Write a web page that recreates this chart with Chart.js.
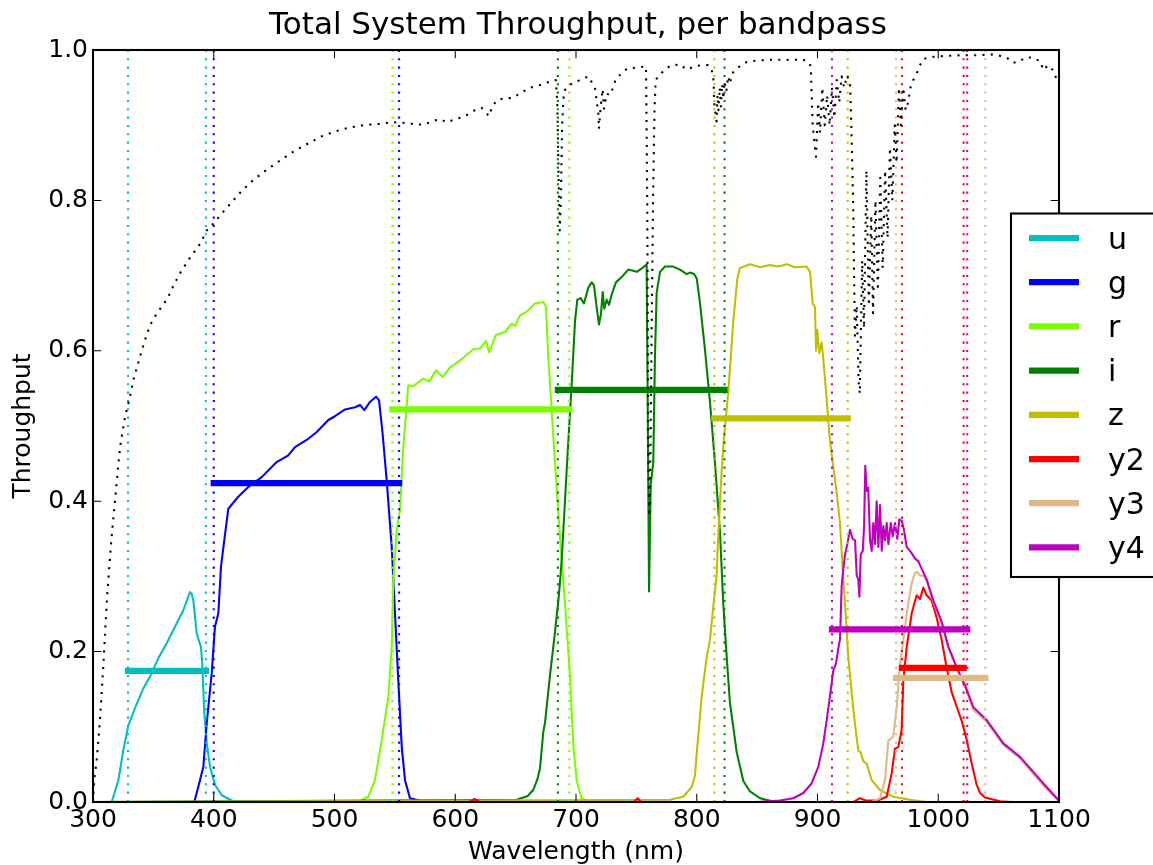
<!DOCTYPE html>
<html><head><meta charset="utf-8">
<script src="https://cdn.jsdelivr.net/npm/chart.js@4.4.1/dist/chart.umd.min.js"></script>
<style>html,body{margin:0;padding:0;background:#fff;overflow:hidden}canvas{display:block}</style>
</head><body>
<canvas id="c" width="1153" height="865"></canvas>
<script>
// ---------------- data ----------------
const chartTitle = 'Total System Throughput, per bandpass';
const xTitle = 'Wavelength (nm)';
const yTitle = 'Throughput';
const xTicks = [300, 400, 500, 600, 700, 800, 900, 1000, 1100];
const yTicks = [0.0, 0.2, 0.4, 0.6, 0.8, 1.0];

const bands = ['u', 'g', 'r', 'i', 'z', 'y2', 'y3', 'y4'];
const bandColors = ['#00BFBF', '#0000FF', '#7CFC00', '#008000', '#BFBF00', '#FF0000', '#DEB887', '#BF00BF'];
const edgeLo = [329, 400, 548, 685, 814.6, 970, 965, 912];
const edgeHi = [393.5, 553.5, 694.5, 823, 925, 1021, 1039, 1024];
const effThru = [0.1745, 0.424, 0.522, 0.548, 0.51, 0.1785, 0.165, 0.2295];

const uCurve = [[300,0],[315.5,0],[321,0.029],[325.1,0.069],[329.3,0.102],[334.8,0.125],[341.7,0.151],[347.2,0.167],[354.1,0.191],[361,0.211],[367.9,0.233],[374.8,0.255],[380.3,0.279],[381.7,0.277],[383.1,0.268],[385.9,0.224],[389.4,0.206],[390.5,0.184],[392.2,0.118],[394.2,0.078],[396.9,0.047],[401,0.023],[406.6,0.009],[414.9,0.002],[420,0],[1100,0]];
const gCurve = [[300,0],[383.9,0],[388.6,0.029],[391.4,0.047],[394.2,0.105],[398.3,0.171],[401,0.233],[403.8,0.251],[406,0.313],[408.7,0.348],[412.1,0.39],[420.3,0.406],[428.6,0.419],[439.7,0.432],[452.1,0.452],[461.7,0.461],[467.3,0.472],[478.3,0.483],[485.3,0.492],[494.9,0.508],[500.4,0.513],[508.7,0.522],[517,0.525],[521.1,0.528],[524.7,0.521],[529.4,0.532],[534.4,0.539],[536.9,0.534],[539.6,0.494],[543.2,0.428],[547.4,0.339],[550.1,0.251],[552.8,0.162],[555.7,0.073],[558.4,0.029],[562.5,0.005],[575,0],[1100,0]];
const rCurve = [[300,0],[519.7,0],[528,0.007],[533.5,0.029],[539.1,0.082],[544.6,0.14],[547.4,0.206],[548.7,0.295],[551.5,0.361],[554.2,0.388],[557,0.472],[561.1,0.554],[565.3,0.553],[573.6,0.563],[578.5,0.559],[584.1,0.574],[589.6,0.565],[595.7,0.578],[603.9,0.587],[615,0.602],[620.5,0.603],[625.5,0.613],[628,0.598],[633.7,0.621],[641.2,0.625],[646.7,0.636],[649.5,0.633],[653.6,0.647],[659.2,0.652],[666,0.663],[672.9,0.665],[675.2,0.658],[677,0.593],[682.6,0.451],[687.3,0.339],[690.9,0.263],[695,0.169],[697.8,0.075],[700.6,0.028],[704.7,0.005],[712,0],[1100,0]];
const iCurve = [[300,0],[650.9,0.003],[660,0.008],[664.6,0.016],[668,0.03],[670.2,0.045],[672.9,0.093],[674.3,0.105],[678.5,0.169],[682.6,0.226],[685.4,0.268],[686.2,0.282],[688.1,0.32],[692.3,0.442],[696.4,0.555],[699.2,0.64],[701.1,0.668],[703.9,0.67],[706.6,0.663],[710.2,0.684],[713,0.691],[714.9,0.687],[717.1,0.658],[719,0.635],[720.7,0.649],[722.1,0.678],[723.4,0.656],[725.4,0.668],[727.3,0.661],[729.6,0.675],[733.1,0.691],[737.8,0.698],[743.3,0.708],[750.3,0.705],[755.7,0.711],[758.5,0.715],[759.3,0.545],[760.5,0.28],[761.9,0.423],[764,0.451],[765.4,0.593],[766.8,0.677],[769.6,0.705],[773.7,0.712],[780.6,0.712],[786.1,0.708],[791.7,0.702],[794.4,0.704],[797.8,0.702],[800,0.696],[802.7,0.663],[806.8,0.602],[811,0.531],[815.1,0.451],[819.3,0.357],[822,0.263],[824.8,0.193],[827.5,0.132],[833.1,0.066],[838.6,0.028],[844.1,0.014],[852.4,0.005],[865,0],[1100,0]];
const zCurve = [[300,0],[777.8,0.003],[788.8,0.007],[795.8,0.02],[798.5,0.035],[800,0.065],[804.1,0.14],[808,0.19],[811,0.216],[813.7,0.26],[816.4,0.3],[817.9,0.357],[820.7,0.442],[821.5,0.461],[822.5,0.484],[826.1,0.545],[830.3,0.64],[833.6,0.696],[835.8,0.71],[844.1,0.715],[852.4,0.711],[860.7,0.714],[867.5,0.712],[874.5,0.715],[881.4,0.711],[891,0.712],[893.8,0.705],[896,0.663],[897.9,0.658],[898.8,0.6],[899.8,0.628],[901.5,0.597],[903.5,0.611],[905.4,0.578],[907.6,0.536],[909.8,0.489],[912.6,0.451],[914.2,0.433],[916.4,0.404],[918.6,0.371],[920.9,0.31],[922.8,0.263],[925.5,0.193],[929.7,0.122],[933.8,0.068],[935.8,0.066],[938,0.054],[940.7,0.051],[944.9,0.029],[951.8,0.016],[962.8,0.007],[976.6,0.003],[990,0],[1100,0]];
const y2Curve = [[300,0],[612,0],[616,0.004],[620,0],[748,0],[751,0.005],[754,0],[930,0],[935,0.005],[940,0.002],[950,0.002],[957.3,0.007],[961.4,0.038],[964.2,0.071],[966.9,0.073],[969.7,0.096],[971.1,0.162],[973.9,0.206],[978,0.251],[982.1,0.275],[984.9,0.27],[987.6,0.285],[990.4,0.275],[994.5,0.268],[998.7,0.245],[1002.8,0.216],[1006.9,0.179],[1011.1,0.146],[1015.2,0.127],[1019.4,0.108],[1023.5,0.083],[1027.6,0.052],[1031.8,0.023],[1034.6,0.012],[1038.7,0.006],[1051.1,0.001],[1060,0],[1100,0]];
const y3Curve = [[300,0],[945,0],[951.8,0.005],[955.9,0.029],[958.7,0.082],[962.8,0.087],[965.6,0.127],[968.3,0.184],[971.1,0.215],[973.9,0.251],[978,0.291],[980.7,0.305],[982.6,0.306],[984.9,0.301],[987.6,0.301],[990.4,0.294],[995.9,0.266],[1002.8,0.238],[1008.3,0.205],[1015.3,0.177],[1022.2,0.153],[1029.1,0.122],[1040.1,0.107],[1053.9,0.076],[1067.7,0.058],[1078.7,0.037],[1089.7,0.017],[1099.4,0.002],[1100,0]];
const y4Curve = [[300,0],[850,0],[868.9,0.002],[880,0.005],[888.3,0.012],[895.2,0.025],[900.7,0.047],[904.8,0.078],[907.6,0.109],[910.3,0.14],[913.1,0.175],[915.3,0.184],[917.2,0.204],[918.6,0.216],[920,0.287],[921.4,0.31],[922.8,0.329],[924.7,0.343],[926.9,0.362],[929.2,0.35],[931.1,0.348],[932.5,0.301],[933.8,0.296],[934.7,0.273],[935.8,0.329],[937.5,0.334],[938.6,0.367],[939.6,0.447],[940.7,0.414],[942,0.418],[943.5,0.348],[944.9,0.334],[946.2,0.371],[947.6,0.343],[949,0.4],[950.4,0.339],[951.8,0.395],[953.2,0.334],[954.5,0.367],[955.9,0.348],[957.3,0.371],[958.7,0.343],[960.7,0.371],[962.3,0.353],[964.2,0.371],[966.1,0.35],[967.8,0.376],[969.7,0.374],[971.6,0.362],[973.9,0.339],[976.6,0.334],[978.8,0.329],[980.7,0.324],[983.5,0.32],[986.3,0.31],[990.4,0.296],[995.9,0.268],[1002.8,0.24],[1008.3,0.207],[1015.3,0.179],[1022.2,0.155],[1029.1,0.126],[1040.1,0.109],[1053.9,0.078],[1067.7,0.06],[1078.7,0.04],[1089.7,0.02],[1099.4,0.003],[1100,0]];

const atmCurve = [[300,0.0],[301,0.03],[303,0.054],[305.8,0.109],[308.5,0.18],[311.8,0.277],[315,0.345],[318.2,0.401],[322.4,0.472],[326.5,0.512],[330.6,0.539],[334,0.565],[338.9,0.592],[343,0.614],[347.2,0.634],[353,0.65],[358.8,0.663],[362.4,0.672],[367,0.688],[372,0.703],[380,0.723],[388.6,0.742],[394.2,0.76],[399.6,0.769],[408,0.785],[416.2,0.8],[424,0.814],[432.8,0.827],[444,0.841],[454.9,0.853],[467,0.866],[479.7,0.877],[489,0.885],[499,0.891],[508,0.895],[518.4,0.899],[530,0.901],[539.1,0.902],[547.3,0.904],[559.8,0.903],[567.5,0.901],[575,0.901],[581.9,0.906],[587.4,0.908],[592.9,0.904],[603.9,0.91],[610,0.914],[616.4,0.92],[621.9,0.923],[628,0.912],[630.2,0.923],[634.3,0.933],[641.2,0.936],[646.7,0.936],[653.6,0.942],[661.9,0.95],[669.6,0.953],[676.6,0.957],[683.2,0.96],[684.5,0.93],[685.5,0.84],[686.5,0.76],[687.5,0.8],[688.5,0.9],[690,0.945],[693.6,0.953],[703.3,0.96],[710.2,0.965],[715.7,0.95],[717.1,0.933],[718.5,0.916],[719,0.895],[720.4,0.924],[722.1,0.948],[723.2,0.922],[725.4,0.942],[728.2,0.94],[730.9,0.951],[733.1,0.962],[742,0.975],[751.6,0.977],[758,0.978],[759,0.8],[759.5,0.62],[760,0.45],[760.6,0.38],[761.2,0.4],[762,0.52],[763,0.68],[764,0.82],[765,0.92],[766,0.96],[769.6,0.968],[777.9,0.979],[786.1,0.981],[791.6,0.974],[799.9,0.979],[809.5,0.98],[812,0.975],[813.7,0.966],[814.5,0.93],[815.5,0.915],[816.4,0.905],[817.2,0.94],[818,0.92],[819,0.95],[820,0.925],[821,0.955],[822,0.935],[823,0.958],[824.5,0.945],[826,0.965],[827.5,0.955],[829,0.968],[831,0.972],[834.4,0.977],[841.3,0.984],[850,0.986],[860.7,0.987],[880,0.987],[888.3,0.987],[892,0.984],[893.8,0.982],[894.6,0.97],[896,0.9],[898.8,0.858],[900.5,0.93],[902,0.89],[904,0.95],[906,0.9],[908,0.94],[910,0.9],[912,0.95],[914,0.91],[916,0.96],[918,0.93],[920,0.965],[922,0.95],[924.5,0.966],[927,0.955],[928,0.9],[929.5,0.8],[931,0.62],[932.5,0.66],[934,0.56],[935,0.543],[937,0.72],[938.5,0.63],[940.5,0.84],[942.5,0.66],[944.5,0.78],[946,0.65],[948,0.8],[950,0.68],[952,0.83],[954,0.71],[956,0.84],[958,0.75],[960,0.87],[962,0.8],[964,0.9],[965.5,0.85],[967.5,0.95],[969,0.9],[971,0.95],[973,0.92],[975,0.93],[977,0.95],[979.3,0.96],[982,0.968],[985,0.98],[987.6,0.988],[995.9,0.991],[1005,0.992],[1018,0.993],[1030,0.993],[1045.6,0.994],[1052,0.992],[1056.7,0.99],[1062,0.983],[1067.7,0.985],[1072,0.99],[1076,0.99],[1080,0.987],[1084.3,0.986],[1086,0.978],[1088.4,0.982],[1090,0.975],[1092.5,0.977],[1095.3,0.973],[1097,0.965],[1098.9,0.96],[1100,0.955]];

const bandCurves = [uCurve, gCurve, rCurve, iCurve, zCurve, y2Curve, y3Curve, y4Curve];

// ---------------- style ----------------
const PT = 25 / 12;              // px per point
const FONT = 'DejaVu Sans';
const DOT = [1 * PT, 3 * PT];

const toXY = arr => arr.map(p => ({x: p[0], y: p[1]}));
const datasets = [];
datasets.push({
  label: 'atmosphere', kind: 'atm', data: toXY(atmCurve),
  borderColor: '#000', borderWidth: PT, borderDash: DOT, order: 0
});
bands.forEach((b, i) => {
  datasets.push({label: b, kind: 'bar', data: [{x: edgeLo[i], y: effThru[i]}, {x: edgeHi[i], y: effThru[i]}],
    borderColor: bandColors[i], borderWidth: 3 * PT, borderCapStyle: 'square', order: 10 - i});
  datasets.push({label: b + ' lo', kind: 'edge', data: [{x: edgeLo[i], y: 0}, {x: edgeLo[i], y: 1}],
    borderColor: bandColors[i], borderWidth: PT, borderDash: DOT, order: 20 - i});
  datasets.push({label: b + ' hi', kind: 'edge', data: [{x: edgeHi[i], y: 0}, {x: edgeHi[i], y: 1}],
    borderColor: bandColors[i], borderWidth: PT, borderDash: DOT, order: 20 - i});
  datasets.push({label: b + ' curve', kind: 'curve', data: toXY(bandCurves[i]),
    borderColor: bandColors[i], borderWidth: PT, order: 30 - i});
});
datasets.forEach(d => { d.showLine = true; d.pointRadius = 0; d.tension = 0; d.fill = false; d.borderJoinStyle = 'round'; });

// frame + inward ticks + title + legend
const decor = {
  id: 'decor',
  afterDatasetsDraw(chart) {
    const {ctx, chartArea: a, scales: {x, y}} = chart;
    ctx.save();
    ctx.strokeStyle = '#000';
    ctx.lineWidth = 0.5 * PT;
    ctx.beginPath();
    const tl = 4 * PT;
    xTicks.forEach(v => { const px = x.getPixelForValue(v);
      ctx.moveTo(px, a.bottom); ctx.lineTo(px, a.bottom - tl);
      ctx.moveTo(px, a.top); ctx.lineTo(px, a.top + tl); });
    yTicks.forEach(v => { const py = y.getPixelForValue(v);
      ctx.moveTo(a.left, py); ctx.lineTo(a.left + tl, py);
      ctx.moveTo(a.right, py); ctx.lineTo(a.right - tl, py); });
    ctx.stroke();
    ctx.lineWidth = PT;
    ctx.strokeRect(a.left, a.top, a.right - a.left, a.bottom - a.top);
    ctx.restore();
  },
  afterDraw(chart) {
    const {ctx, chartArea: a} = chart;
    ctx.save();
    // title
    ctx.fillStyle = '#000';
    ctx.font = '31px "' + FONT + '"';
    ctx.textAlign = 'center';
    ctx.textBaseline = 'alphabetic';
    ctx.fillText(chartTitle, (a.left + a.right) / 2 + 2, 33.5);
    // legend
    const lx = 1011, ly = 213.5, lw = 200, lh = 363.5;
    ctx.fillStyle = '#fff';
    ctx.fillRect(lx, ly, lw, lh);
    ctx.strokeStyle = '#000';
    ctx.lineWidth = PT;
    ctx.strokeRect(lx, ly, lw, lh);
    const items = chart.data.datasets.filter(d => d.kind === 'bar');
    items.forEach((d, k) => {
      const yy = 238 + k * 44.2;
      ctx.strokeStyle = d.borderColor;
      ctx.lineWidth = 3 * PT;
      ctx.lineCap = 'butt';
      ctx.beginPath(); ctx.moveTo(1029, yy); ctx.lineTo(1079, yy); ctx.stroke();
      ctx.fillStyle = '#000';
      ctx.font = '30px "' + FONT + '"';
      ctx.textAlign = 'left';
      ctx.textBaseline = 'alphabetic';
      ctx.fillText(d.label, 1108, yy + 10.5);
    });
    ctx.restore();
  }
};

Chart.defaults.font.family = FONT;
Chart.defaults.color = '#000';

new Chart(document.getElementById('c'), {
  type: 'scatter',
  data: {datasets},
  options: {
    responsive: false, animation: false, devicePixelRatio: 1, events: [],
    layout: {padding: {top: 50, right: 94, left: 0, bottom: 0}},
    plugins: {legend: {display: false}, tooltip: {enabled: false}, title: {display: false}},
    scales: {
      x: {
        type: 'linear', position: 'bottom', min: 300, max: 1100,
        grid: {display: false, drawTicks: false}, border: {display: false},
        afterBuildTicks: s => { s.ticks = xTicks.map(v => ({value: v})); },
        ticks: {font: {size: 25}, color: '#000', padding: 3.5, maxRotation: 0, autoSkip: false, callback: v => String(v)},
        title: {display: true, text: xTitle, font: {size: 25}, color: '#000', padding: {top: 0, bottom: -2}},
        afterFit: s => { s.height = 63; }
      },
      y: {
        type: 'linear', position: 'left', min: 0, max: 1,
        grid: {display: false, drawTicks: false}, border: {display: false},
        afterBuildTicks: s => { s.ticks = yTicks.map(v => ({value: v})); },
        ticks: {font: {size: 25}, color: '#000', padding: 5, autoSkip: false, callback: v => v.toFixed(1)},
        title: {display: true, text: yTitle, font: {size: 25}, color: '#000', padding: {top: 8, bottom: 0}},
        afterFit: s => { s.width = 93; }
      }
    }
  },
  plugins: [decor]
});
</script>
</body></html>
